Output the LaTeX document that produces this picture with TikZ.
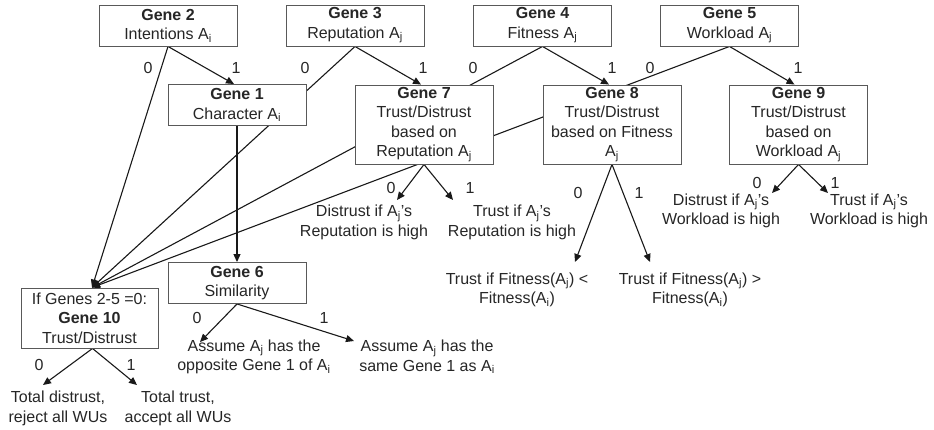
\documentclass[tikz,border=0pt]{standalone}
\usepackage{fontspec}
\setmainfont{Liberation Sans}
\usetikzlibrary{arrows.meta,backgrounds,calc}
\begin{document}
\begin{tikzpicture}[x=1pt,y=-1pt,
  every node/.style={font=\fontsize{16}{19.5}\selectfont, text=black!85},
  gene/.style={draw=black!65, line width=0.9pt, fill=white, align=center, inner sep=0pt, minimum width=138pt},
  gtwo/.style={gene, minimum height=41pt},
  gthree/.style={gene, minimum height=60pt},
  gfour/.style={gene, minimum height=79pt},
  txt/.style={align=center, inner sep=0pt},
  lbl/.style={inner sep=0pt},
  conn/.style={line width=1.1pt, draw=black!90},
  arr/.style={conn, -{Triangle[length=8pt,width=7pt]}},
]
\useasboundingbox (0,0) rectangle (934,429);

% gene boxes
\node[gtwo] (g2) at (168,25.5) {\textbf{Gene 2}\\Intentions A\textsubscript{i}};
\node[gtwo] (g3) at (355,25.5) {\textbf{Gene 3}\\Reputation A\textsubscript{j}};
\node[gtwo] (g4) at (542.5,25.5) {\textbf{Gene 4}\\Fitness A\textsubscript{j}};
\node[gtwo] (g5) at (729.5,25.5) {\textbf{Gene 5}\\Workload A\textsubscript{j}};
\node[gtwo] (g1) at (237,105) {\textbf{Gene 1}\\Character A\textsubscript{i}};
\node[gfour] (g7) at (424,124.5) {\textbf{Gene 7}\\Trust/Distrust\\based on\\Reputation A\textsubscript{j}};
\node[gfour] (g8) at (612,124.5) {\textbf{Gene 8}\\Trust/Distrust\\based on Fitness\\A\textsubscript{j}};
\node[gfour] (g9) at (798.5,124.5) {\textbf{Gene 9}\\Trust/Distrust\\based on\\Workload A\textsubscript{j}};
\node[gthree, minimum width=137pt] (g10) at (89.5,318) {If Genes 2-5 =0:\\\textbf{Gene 10}\\Trust/Distrust};
\node[gtwo] (g6) at (237,283) {\textbf{Gene 6}\\Similarity};

% outcome texts
\node[txt] (o7a) at (364,222.5) {Distrust if A\textsubscript{j}’s\\Reputation is high};
\node[txt] (o7b) at (512,222.5) {Trust if A\textsubscript{j}’s\\Reputation is high};
\node[txt] (o8a) at (517,290) {Trust if Fitness(A\textsubscript{j}) <\\Fitness(A\textsubscript{i})};
\node[txt] (o8b) at (690,290) {Trust if Fitness(A\textsubscript{j}) >\\Fitness(A\textsubscript{i})};
\node[txt] (o9a) at (721,211) {Distrust if A\textsubscript{j}’s\\Workload is high};
\node[txt] (o9b) at (869,211) {Trust if A\textsubscript{j}’s\\Workload is high};
\node[txt] (o6a) at (254,357) {Assume A\textsubscript{j} has the\\opposite Gene 1 of A\textsubscript{i}};
\node[txt] (o6b) at (427,357) {Assume A\textsubscript{j} has the\\same Gene 1 as A\textsubscript{i}};
\node[txt] (o10a) at (58,408.5) {Total distrust,\\reject all WUs};
\node[txt] (o10b) at (178,408.5) {Total trust,\\accept all WUs};

% branch labels
\node[lbl] (l2a) at (148,68) {0};
\node[lbl] (l2b) at (236,68) {1};
\node[lbl] (l3a) at (305,68) {0};
\node[lbl] (l3b) at (423,68) {1};
\node[lbl] (l4a) at (473,68) {0};
\node[lbl] (l4b) at (612,68) {1};
\node[lbl] (l5a) at (650,68) {0};
\node[lbl] (l5b) at (798,68) {1};
\node[lbl] (l7a) at (391,188) {0};
\node[lbl] (l7b) at (470,188) {1};
\node[lbl] (l8a) at (578,193) {0};
\node[lbl] (l8b) at (639,193) {1};
\node[lbl] (l9a) at (757,183) {0};
\node[lbl] (l9b) at (835,183) {1};
\node[lbl] (l6a) at (197,318) {0};
\node[lbl] (l6b) at (324,318) {1};
\node[lbl] (l10a) at (39,365) {0};
\node[lbl] (l10b) at (131,365) {1};

% arrow end points
\coordinate (conv) at ($(g10.north)+(2.5,0)$);
\coordinate (e7a) at (397,200);
\coordinate (e7b) at (453,200);
\coordinate (e8a) at (575,262);
\coordinate (e8b) at (650,262);
\coordinate (e9a) at (772,193);
\coordinate (e9b) at (828,193);
\coordinate (e6a) at (200,342);
\coordinate (e6b) at (354,341);
\coordinate (e10a) at (43,385);
\coordinate (e10b) at (137,385);

\begin{scope}[on background layer]
\draw[arr] (g2.south) -- ($(g1.north)+(-3,0)$);
\draw[arr] (g2.south) -- (conv);
\draw[arr] (g3.south) -- (conv);
\draw[arr] (g3.south) -- ($(g7.north)+(-3,0)$);
\draw[arr] (g4.south) -- (conv);
\draw[arr] (g4.south) -- ($(g8.north)+(-3,0)$);
\draw[arr] (g5.south) -- (conv);
\draw[arr] (g5.south) -- ($(g9.north)+(-4,0)$);
\draw[arr] (g1.south) -- (g6.north);
\draw[arr] (g7.south) -- (e7a);
\draw[arr] (g7.south) -- (e7b);
\draw[arr] (g8.south) -- (e8a);
\draw[arr] (g8.south) -- (e8b);
\draw[arr] (g9.south) -- (e9a);
\draw[arr] (g9.south) -- (e9b);
\draw[arr] (g6.south) -- (e6a);
\draw[arr] (g6.south) -- (e6b);
\draw[arr] ($(g10.south)+(3,0)$) -- (e10a);
\draw[arr] ($(g10.south)+(3,0)$) -- (e10b);
\end{scope}
\end{tikzpicture}
\end{document}
